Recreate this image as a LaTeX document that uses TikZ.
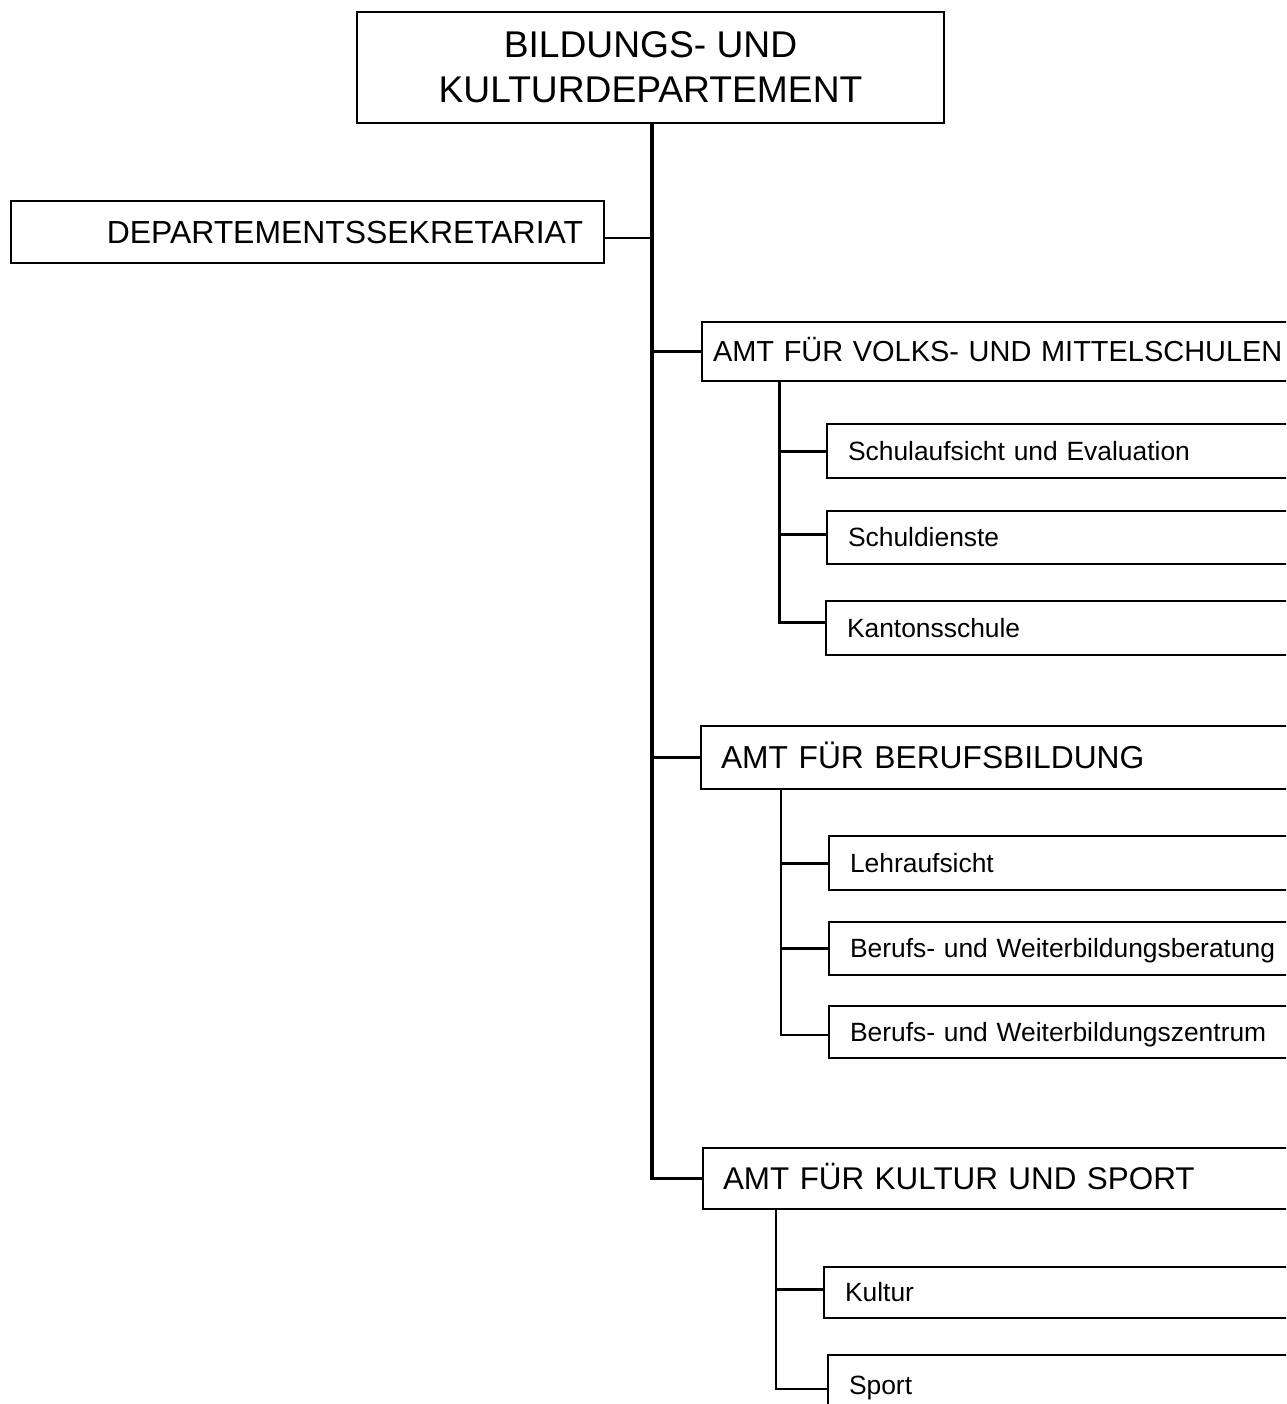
\documentclass[tikz,border=0pt]{standalone}
\usepackage{fontspec}
\setmainfont{Liberation Sans}
\begin{document}
\begin{tikzpicture}[x=1pt,y=-1pt,
  box/.style={draw, line width=1.8pt, anchor=north west, outer sep=0pt, inner ysep=0pt, text depth=0pt},
  subbox/.style={box, font=\fontsize{26.4}{30}\selectfont, text height=18.9pt, inner xsep=21pt, text width=480pt, align=left},
  amtbox/.style={box, inner xsep=20pt, text width=620pt, align=left},
  trunk/.style={line width=3.6pt, line join=miter},
  thickcon/.style={line width=3pt, line join=miter},
  midcon/.style={line width=2.4pt, line join=miter},
  thincon/.style={line width=1.8pt}
]
\useasboundingbox (0,0) rectangle (1286,1404);
\clip (0,0) rectangle (1286,1404);
\fill[white] (0,0) rectangle (1286,1404);

% top
\node[box, minimum width=587pt, minimum height=111pt, align=center, inner xsep=0pt,
      font=\fontsize{37.2}{45}\selectfont] (title) at (357,12)
      {BILDUNGS- UND\\KULTURDEPARTEMENT};
\node[box, inner xsep=21pt, text width=551pt, align=right, minimum height=62pt,
      text height=22.8pt, font=\fontsize{31.9}{36}\selectfont] (sec) at (11,201)
      {DEPARTEMENTSSEKRETARIAT};

% offices
\node[amtbox, inner xsep=11pt, minimum height=59pt, text height=20.7pt,
      font=\fontsize{28.95}{34}\selectfont] (amt1) at (702,322)
      {AMT FÜR VOLKS- UND MITTELSCHULEN};
\node[amtbox, minimum height=63pt, text height=22.8pt,
      font=\fontsize{31.75}{36}\selectfont] (amt2) at (701,726)
      {AMT FÜR BERUFSBILDUNG};
\node[amtbox, minimum height=61pt, text height=22.6pt,
      font=\fontsize{31.4}{36}\selectfont] (amt3) at (703,1148)
      {AMT FÜR KULTUR UND SPORT};

% sub units
\node[subbox, minimum height=54pt] (s1) at (827,424) {Schulaufsicht und Evaluation};
\node[subbox, minimum height=53pt] (s2) at (827,511) {Schuldienste};
\node[subbox, minimum height=54pt] (s3) at (826,601) {Kantonsschule};

\node[subbox, minimum height=54pt] (b1) at (829,836) {Lehraufsicht};
\node[subbox, minimum height=53pt] (b2) at (829,922) {Berufs- und Weiterbildungsberatung};
\node[subbox, minimum height=52pt] (b3) at (829,1006) {Berufs- und Weiterbildungszentrum};

\node[subbox, minimum height=51pt] (k1) at (824,1267) {Kultur};
\node[subbox, minimum height=60pt] (k2) at (828,1355) {Sport};

% connector end points
\coordinate (secc) at ([yshift=-6pt]sec.east);
\coordinate (s2c) at ([yshift=3pt]s2.west);
\coordinate (s3c) at ([yshift=6pt]s3.west);
\coordinate (b3c) at ([yshift=-3pt]b3.west);
\coordinate (k1c) at ([yshift=3pt]k1.west);
\coordinate (k2c) at ([yshift=-4pt]k2.west);

% trunk
\coordinate (tr) at (652,123);
\draw[trunk] (tr) |- (amt3.west);
\draw[thincon] (secc) -- (secc -| tr);
\draw[midcon] (amt1.west -| tr) -- (amt1.west);
\draw[midcon] (amt2.west -| tr) -- (amt2.west);

% branch 1
\coordinate (v1) at (779,381);
\draw[thickcon] (v1) |- (s3c);
\draw[thickcon] (v1 |- s1.west) -- (s1.west);
\draw[midcon] (v1 |- s2c) -- (s2c);

% branch 2
\coordinate (v2) at (781,789);
\draw[midcon] (v2) |- (b3c);
\draw[thickcon] (v2 |- b1.west) -- (b1.west);
\draw[thickcon] (v2 |- b2.west) -- (b2.west);

% branch 3
\coordinate (v3) at (776,1210);
\draw[midcon] (v3) |- (k2c);
\draw[midcon] (v3 |- k1c) -- (k1c);
\end{tikzpicture}
\end{document}
